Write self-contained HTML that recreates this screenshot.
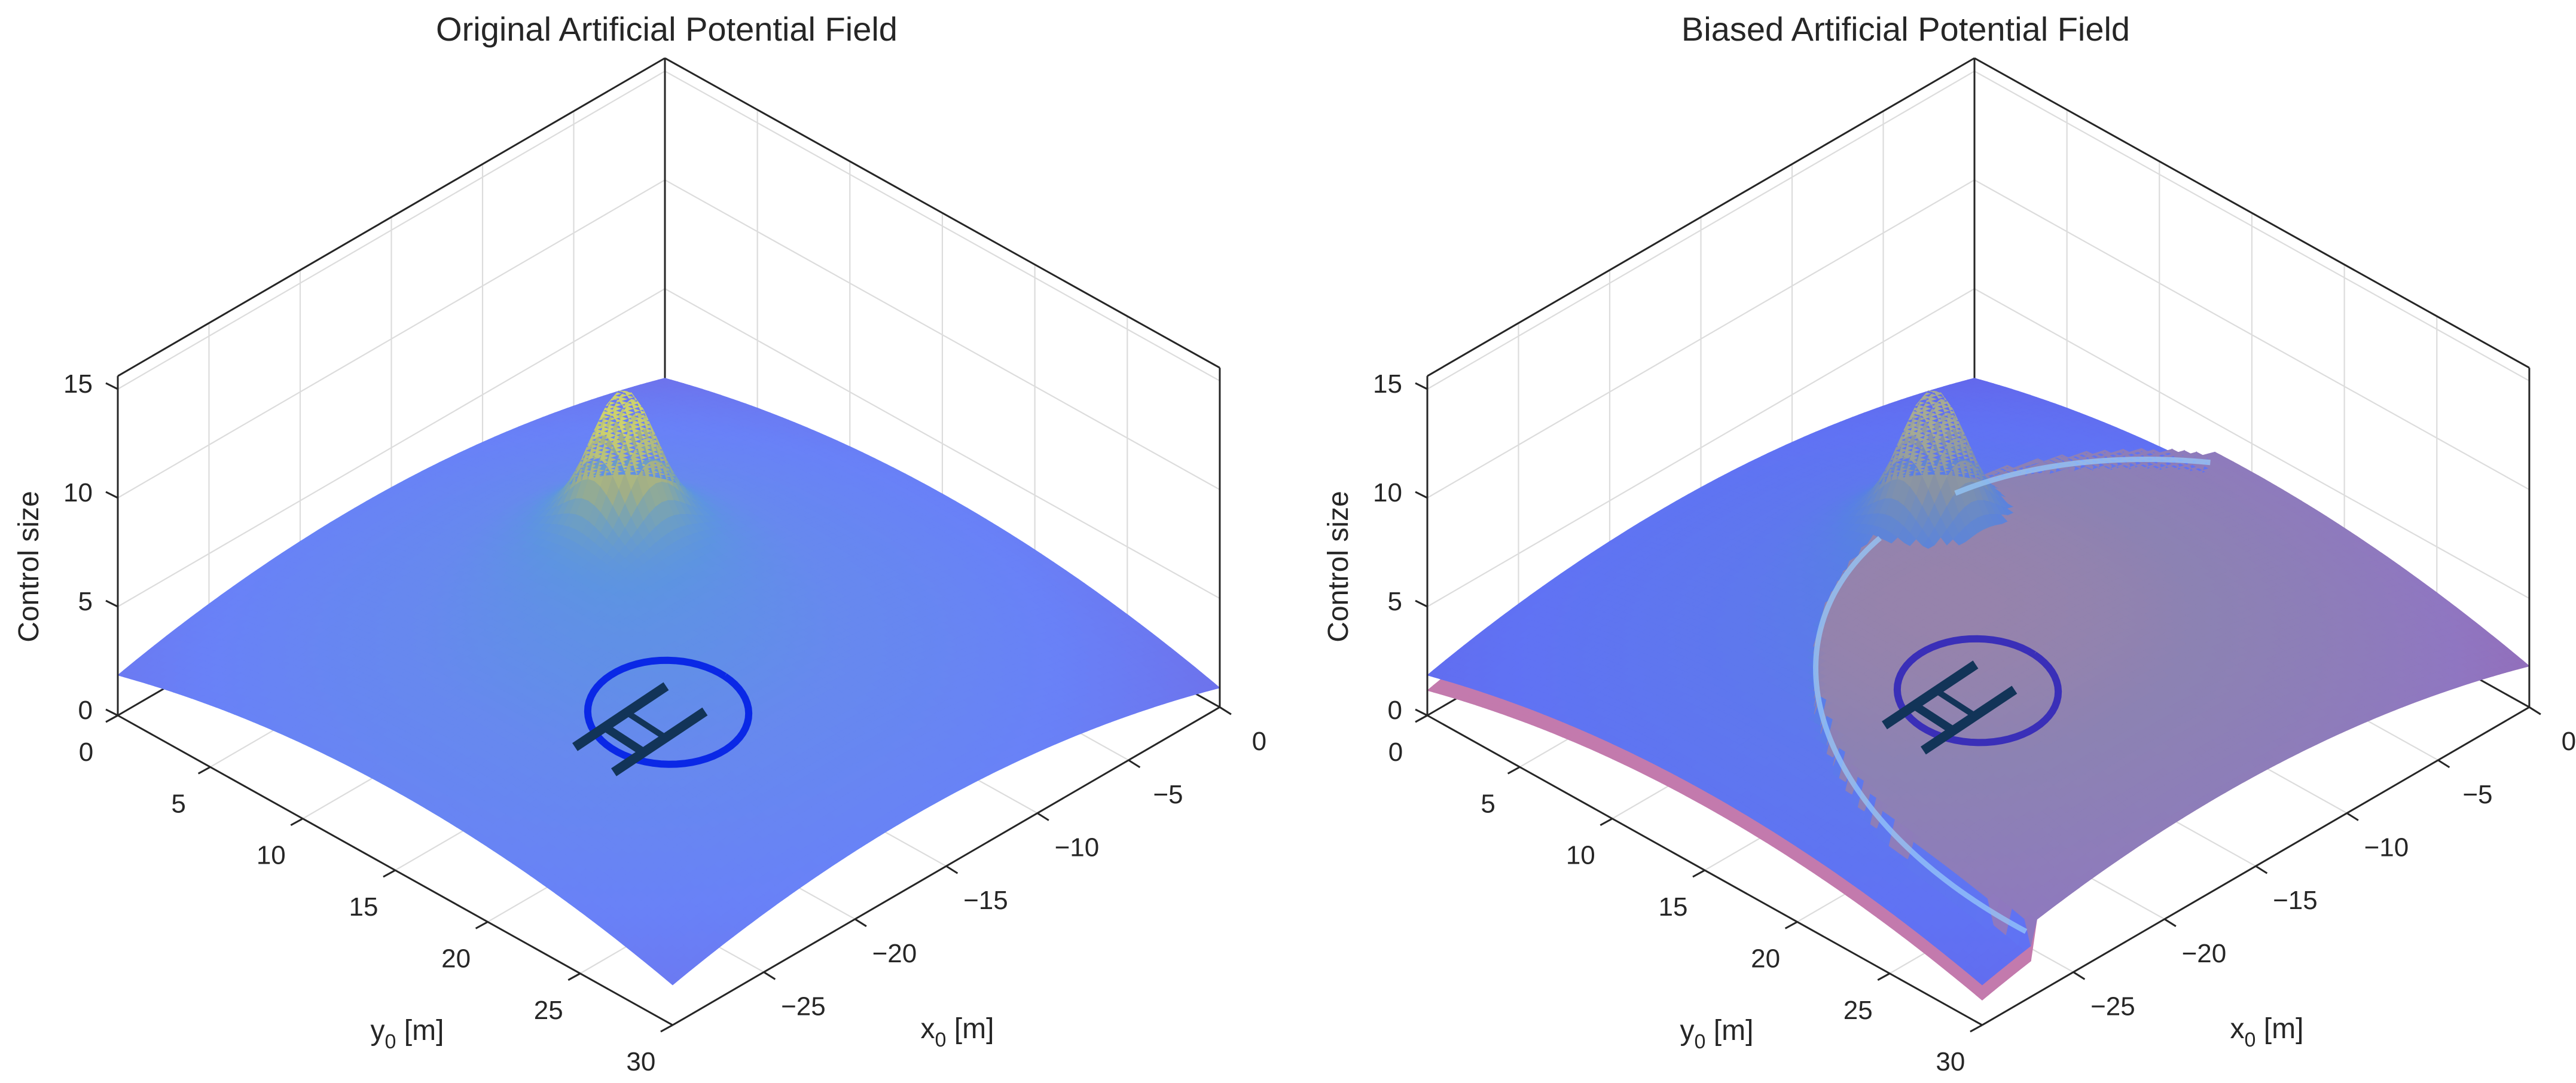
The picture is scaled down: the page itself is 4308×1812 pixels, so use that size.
<!DOCTYPE html>
<html><head><meta charset="utf-8"><style>
html,body{margin:0;padding:0;background:#fff;}
svg{display:block;}
text{font-family:"Liberation Sans",Arial,sans-serif;fill:#262626;}
</style></head><body>
<svg id="fig" width="4308" height="1812" viewBox="0 0 4308 1812" xmlns="http://www.w3.org/2000/svg">
<rect width="4308" height="1812" fill="#fff"/>
<g id="left"></g>
<g id="right"></g>
</svg>
<script>
// ---- data ----
const xTicks = [-25,-20,-15,-10,-5,0];
const yTicks = [0,5,10,15,20,25,30];
const zTicks = [0,5,10,15];
const xLim = [-30,0];
const yLim = [0,30];
const zLim = [0,15.6];
const domeCenter = [-17,15];
const domePeak = [5.0];
const domeCurv = [0.008];
const helipad = [-20,19.9];
const padRadius = [3.1];
const obstacle = [-12.3,9.9];
const obstacleAmp = [5.4,1.0];
const obstacleSigma = [1.25,3.2];
const biasCircle = [-10.9,25.9,16.9];
const biasOffset = [1.0,-0.7];
const titles = ["Original Artificial Potential Field","Biased Artificial Potential Field"];
const titleX = [1115,3187];
const offsets = [0,2190];
const N = 90;

const NS="http://www.w3.org/2000/svg";
function P(x,y,z,ox){const u=x-xLim[0];return [ox+197+u*30.5+y*30.93, 1197-u*17.73+y*17.27-z*36.4];}
function el(tag,attrs,parent){const e=document.createElementNS(NS,tag);for(const k in attrs)e.setAttribute(k,attrs[k]);parent.appendChild(e);return e;}
function dome(x,y){return Math.max(0.3,domePeak[0]-domeCurv[0]*((x-domeCenter[0])**2+(y-domeCenter[1])**2));}
function zb(x,y){
  const r2=(x-obstacle[0])**2+(y-obstacle[1])**2;
  return dome(x,y)+obstacleAmp[0]*Math.exp(-r2/(2*obstacleSigma[0]**2))+obstacleAmp[1]*Math.exp(-r2/(2*obstacleSigma[1]**2));
}
function inCircle(x,y){return Math.hypot(x-biasCircle[0],y-biasCircle[1])<biasCircle[2];}
function zr(x,y){const d=dome(x,y);return inCircle(x,y)?d+biasOffset[0]:Math.max(0.1,d+biasOffset[1]);}
const par=[[0,[62,38,168]],[0.25,[36,128,236]],[0.5,[20,184,168]],[0.75,[172,190,60]],[1,[249,251,14]]];
function parula(t){t=Math.max(0,Math.min(1,t));for(let i=1;i<par.length;i++){if(t<=par[i][0]){const a=par[i-1],b=par[i],f=(t-a[0])/(b[0]-a[0]);return a[1].map((v,k)=>v+(b[1][k]-v)*f);}}return par[4][1];}
function mix(a,b,w){return a.map((v,k)=>v*(1-w)+b[k]*w);}
function rgb(c){return `rgb(${c.map(v=>Math.round(v)).join(',')})`;}
const baseBlue=[118,126,250], baseRed=[228,120,140];
function blueColor(z){const c=mix(parula((z-0.5)/9.5),[255,255,255],0.1);const w=0.22+0.45*Math.max(0,Math.min(1,(z-4.5)/3));return mix(baseBlue,c,w);}

function drawAxes(g,ox,k){
  const gr=el('g',{},g);
  
  
  const gs={stroke:'#dcdcdc','stroke-width':2.2,fill:'none'};
  const line=(a,b,attrs,parent)=>el('line',Object.assign({x1:a[0],y1:a[1],x2:b[0],y2:b[1]},attrs),parent);
  xTicks.forEach(x=>{if(x>xLim[0]&&x<xLim[1])line(P(x,0,0,ox),P(x,0,zLim[1],ox),gs,gr);});
  zTicks.forEach(z=>{if(z>0){line(P(xLim[0],0,z,ox),P(0,0,z,ox),gs,gr);line(P(0,0,z,ox),P(0,30,z,ox),gs,gr);}});
  yTicks.forEach(y=>{if(y>0&&y<30)line(P(0,y,0,ox),P(0,y,zLim[1],ox),gs,gr);});
  xTicks.forEach(x=>{if(x>xLim[0]&&x<0)line(P(x,0,0,ox),P(x,30,0,ox),gs,gr);});
  yTicks.forEach(y=>{if(y>0&&y<30)line(P(xLim[0],y,0,ox),P(0,y,0,ox),gs,gr);});
  const bs={stroke:'#262626','stroke-width':3,fill:'none'};
  const back=el('g',{},g);
  
  
  line(P(0,0,0,ox),P(0,0,zLim[1],ox),bs,back);
  line(P(xLim[0],0,0,ox),P(0,0,0,ox),bs,back);
  line(P(0,0,0,ox),P(0,30,0,ox),bs,back);
}

function drawSurface(g,ox,zf,colf,name){
  const sg=el('g',{},g);
  
  
  const dx=(xLim[1]-xLim[0])/N, dy=(yLim[1]-yLim[0])/N;
  const cells=[];
  for(let j=0;j<N;j++)for(let i=0;i<N;i++)cells.push([i,j]);
  cells.sort((a,b)=>(a[1]-(N-1-a[0]))-(b[1]-(N-1-b[0])));
  let html='';
  for(const [i,j] of cells){
    const x0=xLim[0]+i*dx,x1=x0+dx,y0=j*dy,y1=y0+dy;
    const zs=[zf(x0,y0),zf(x1,y0),zf(x1,y1),zf(x0,y1)];
    const pts=[P(x0,y0,zs[0],ox),P(x1,y0,zs[1],ox),P(x1,y1,zs[2],ox),P(x0,y1,zs[3],ox)];
    const c=rgb(colf((x0+x1)/2,(y0+y1)/2,(zs[0]+zs[1]+zs[2]+zs[3])/4));
    html+=`<polygon points="${pts.map(p=>p[0].toFixed(1)+','+p[1].toFixed(1)).join(' ')}" fill="${c}" stroke="${c}" stroke-width="1"/>`;
  }
  sg.innerHTML=html;
}

function drawPad(g,ox,zf,ringCol){
  const pg=el('g',{},g);
  
  
  let pts=[];
  for(let a=0;a<=64;a++){const t=a/64*2*Math.PI;const x=helipad[0]+padRadius[0]*Math.cos(t),y=helipad[1]+padRadius[0]*Math.sin(t);pts.push(P(x,y,zf(x,y)+0.05,ox));}
  el('polyline',{points:pts.map(p=>p.join(',')).join(' '),fill:'none',stroke:ringCol,'stroke-width':12},pg);
  const bar=(xa,ya,xb,yb,w)=>{const a=P(xa,ya,zf(xa,ya)+0.05,ox),b=P(xb,yb,zf(xb,yb)+0.05,ox);el('line',{x1:a[0],y1:a[1],x2:b[0],y2:b[1],stroke:'#123458','stroke-width':w},pg);};
  const cx=helipad[0],cy=helipad[1];
  bar(cx-4.0,cy-1.1,cx+1.0,cy-1.1,16);
  bar(cx-4.0,cy+1.0,cx+1.0,cy+1.0,16);
  bar(cx-2.4,cy-1.1,cx-2.4,cy+1.0,14);
  bar(cx-1.2,cy-1.1,cx-1.2,cy+1.0,10);
}

function drawFront(g,ox,k){
  const fg=el('g',{},g);
  
  
  const line=(a,b)=>el('line',{x1:a[0],y1:a[1],x2:b[0],y2:b[1],stroke:'#262626','stroke-width':3},fg);
  line(P(xLim[0],0,0,ox),P(xLim[0],0,zLim[1],ox));
  line(P(0,30,0,ox),P(0,30,zLim[1],ox));
  line(P(xLim[0],0,zLim[1],ox),P(0,0,zLim[1],ox));
  line(P(0,0,zLim[1],ox),P(0,30,zLim[1],ox));
  line(P(xLim[0],0,0,ox),P(xLim[0],30,0,ox));
  line(P(xLim[0],30,0,ox),P(0,30,0,ox));
  const tg=el('g',{},g);
  
  
  zTicks.forEach(z=>{const p=P(xLim[0],0,z,ox);line(p,[p[0]-20,p[1]-10]);
    const t=el('text',{x:p[0]-42,y:p[1]+6,'font-size':44,'text-anchor':'end'},tg);t.textContent=z;});
  yTicks.forEach(y=>{const p=P(xLim[0],y,0,ox);line(p,[p[0]-20,p[1]+11]);
    const t=el('text',{x:p[0]-53,y:p[1]+76,'font-size':44,'text-anchor':'middle'},tg);t.textContent=y;});
  [0,-5,-10,-15,-20,-25].forEach(x=>{const p=P(x,30,0,ox);line(p,[p[0]+19,p[1]+12]);
    const t=el('text',{x:p[0]+66,y:p[1]+72,'font-size':44,'text-anchor':'middle'},tg);t.textContent=(x<0?'\u2212'+(-x):x);});
  const tt=el('text',{x:titleX[k],y:68,'font-size':56,'text-anchor':'middle'},g);
  tt.textContent=titles[k];
  
  
  const zl=el('text',{x:0,y:0,'font-size':48,'text-anchor':'middle',transform:`translate(${ox+64},${948}) rotate(-90)`},g);
  zl.textContent='Control size';
  
  
  const yl=el('text',{x:ox+681,y:1740,'font-size':48,'text-anchor':'middle'},g);
  yl.innerHTML='y<tspan font-size="34" dy="14">0</tspan><tspan dy="-14"> [m]</tspan>';
  
  
  const xl=el('text',{x:ox+1601,y:1737,'font-size':48,'text-anchor':'middle'},g);
  xl.innerHTML='x<tspan font-size="34" dy="14">0</tspan><tspan dy="-14"> [m]</tspan>';
  
  
}

(function(){
  const g=document.getElementById('left'),ox=offsets[0];
  drawAxes(g,ox,0);
  drawSurface(g,ox,zb,(x,y,z)=>blueColor(z),'potential-surface');
  drawPad(g,ox,zb,'#0a28e6');
  drawFront(g,ox,0);
})();
(function(){
  const g=document.getElementById('right'),ox=offsets[1];
  drawAxes(g,ox,1);
  drawSurface(g,ox,zr,(x,y,z)=>mix(baseRed,baseBlue,0.3),'biased-surface-under');
  const ztop=(x,y)=>Math.max(zb(x,y),zr(x,y));
  drawSurface(g,ox,ztop,(x,y,z)=>{
    if(zr(x,y)>=zb(x,y)){return mix(mix([205,110,140],parula((z-0.5)/9.5),0.3),baseBlue,0.3);}
    return mix(blueColor(z),[75,80,235],0.3);
  },'biased-surface-top');
  const cg=el('g',{},g);
  
  
  let pts=[];
  const flush=()=>{if(pts.length>1)el('polyline',{points:pts.map(p=>p.join(',')).join(' '),fill:'none',stroke:'rgba(150,200,250,0.75)','stroke-width':9},cg);pts=[];};
  for(let a=0;a<=300;a++){const t=a/300*2*Math.PI;const x=biasCircle[0]+biasCircle[2]*Math.cos(t),y=biasCircle[1]+biasCircle[2]*Math.sin(t);
    const r2=(x-obstacle[0])**2+(y-obstacle[1])**2;
    if(x>=xLim[0]&&x<=0&&y>=0&&y<=30&&r2>5){pts.push(P(x,y,dome(x,y)+biasOffset[0]*0.5,ox));}else flush();}
  flush();
  drawPad(g,ox,ztop,'#3a2fb8');
  drawFront(g,ox,1);
})();
</script>
</body></html>
